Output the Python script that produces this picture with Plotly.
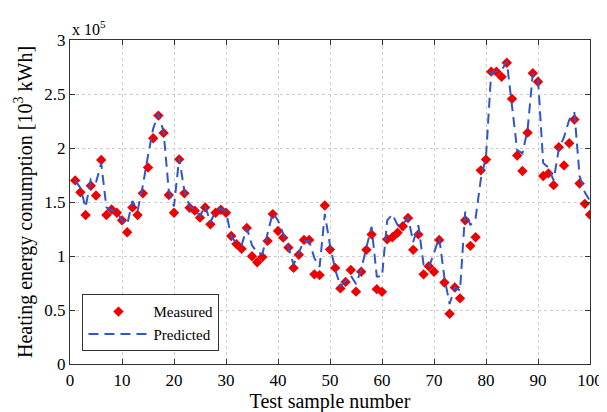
import plotly.graph_objects as go

samples = list(range(1, 101))

measured = [
    1.70, 1.59, 1.38, 1.65, 1.56, 1.89, 1.38, 1.43, 1.40, 1.33,
    1.22, 1.45, 1.38, 1.58, 1.82, 2.09, 2.30, 2.14, 1.565, 1.40,
    1.895, 1.58, 1.447, 1.42, 1.355, 1.45, 1.293, 1.40, 1.428, 1.40,
    1.185, 1.11, 1.066, 1.26, 0.997, 0.942, 0.99, 1.14, 1.388, 1.231,
    1.17, 1.078, 0.89, 1.012, 1.149, 1.149, 0.83, 0.823, 1.468, 1.06,
    0.89, 0.70, 0.76, 0.87, 0.67, 0.854, 1.057, 1.20, 0.693, 0.668,
    1.155, 1.173, 1.215, 1.276, 1.352, 1.057, 1.20, 0.83, 0.905, 0.854,
    1.149, 0.754, 0.465, 0.708, 0.608, 1.331, 1.094, 1.173, 1.793, 1.893,
    2.707, 2.707, 2.659, 2.789, 2.455, 1.93, 1.787, 2.142, 2.692, 2.613,
    1.741, 1.765, 1.656, 2.008, 1.839, 2.045, 2.264, 1.671, 1.483, 1.383,
]

predicted = [
    1.70, 1.63, 1.45, 1.71, 1.68, 1.86, 1.45, 1.42, 1.41, 1.33,
    1.29, 1.51, 1.42, 1.65, 1.93, 2.18, 2.32, 2.15, 1.60, 1.46,
    1.91, 1.60, 1.46, 1.43, 1.37, 1.465, 1.31, 1.42, 1.44, 1.41,
    1.18, 1.12, 1.10, 1.26, 1.10, 1.03, 1.02, 1.20, 1.40, 1.33,
    1.21, 1.08, 0.92, 1.03, 1.14, 1.14, 0.98, 0.90, 1.39, 1.10,
    0.875, 0.72, 0.77, 0.82, 0.74, 0.875, 1.08, 1.27, 0.81, 0.81,
    1.33, 1.385, 1.285, 1.29, 1.36, 1.13, 1.285, 0.92, 0.89, 1.03,
    1.17, 0.80, 0.556, 0.71, 0.68, 1.41, 1.285, 1.35, 1.71, 1.92,
    2.70, 2.71, 2.72, 2.80, 2.41, 1.98, 1.95, 2.17, 2.69, 2.64,
    1.86, 1.82, 1.70, 1.99, 2.10, 2.26, 2.33, 1.74, 1.59, 1.51,
]

x_ticks = [0, 10, 20, 30, 40, 50, 60, 70, 80, 90, 100]
y_ticks = [0, 0.5, 1, 1.5, 2, 2.5, 3]
y_tick_labels = ["0", "0.5", "1", "1.5", "2", "2.5", "3"]

FONT = "Liberation Serif"

fig = go.Figure()
fig.add_trace(go.Scatter(
    x=samples, y=measured, mode="markers", name="Measured",
    marker=dict(symbol="diamond", size=8, color="#ee0000",
                line=dict(width=0)),
))
fig.add_trace(go.Scatter(
    x=samples, y=predicted, mode="lines", name="Predicted",
    line=dict(color="#3056c8", width=2, dash="10px,6px"),
))

axis_common = dict(
    showline=True, linecolor="#333333", linewidth=1.2, mirror="ticks",
    ticks="inside", ticklen=5, tickcolor="#333333",
    showgrid=True, gridcolor="#cccccc", griddash="dot", gridwidth=1,
    zeroline=False, tickfont=dict(family=FONT, size=17, color="black"),
)

fig.update_layout(
    width=607, height=412,
    margin=dict(l=62, r=12, t=32, b=51),
    paper_bgcolor="white", plot_bgcolor="white",
    font=dict(family=FONT, size=16, color="black"),
    xaxis=dict(range=[0, 100], tickvals=x_ticks,
               title=dict(text="Test sample number", font=dict(family=FONT, size=20), standoff=4),
               **axis_common),
    yaxis=dict(range=[0, 3], tickvals=y_ticks, ticktext=y_tick_labels,
               title=dict(text="Heating energy conumption [10<sup>3</sup> kWh]",
                          font=dict(family=FONT, size=20), standoff=6),
               **axis_common),
    legend=dict(x=0.024, y=0.215, xanchor="left", yanchor="top",
                bgcolor="white", bordercolor="#333333", borderwidth=1,
                font=dict(family=FONT, size=15), itemwidth=60,
                tracegroupgap=0),
    showlegend=True,
)

fig.add_annotation(
    text="x 10<sup>5</sup>", xref="paper", yref="paper", x=0, y=1,
    xanchor="left", yanchor="bottom", showarrow=False,
    font=dict(family=FONT, size=16, color="black"),
)

fig.write_html("out.html")
